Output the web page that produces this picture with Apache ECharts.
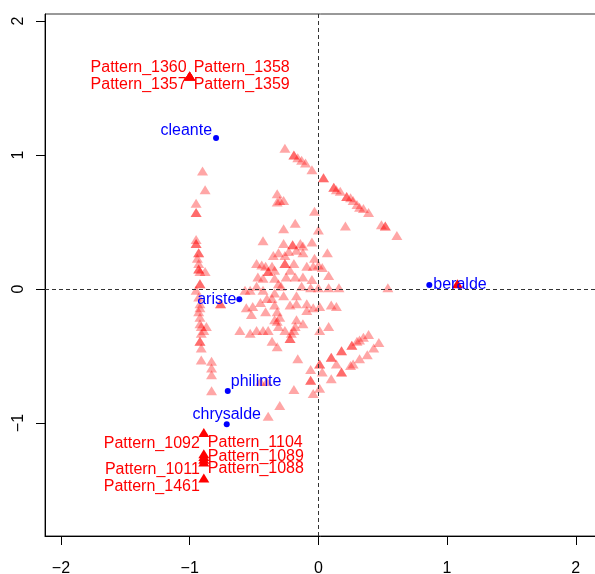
<!DOCTYPE html>
<html><head><meta charset="utf-8">
<script src="https://cdn.jsdelivr.net/npm/echarts@6/dist/echarts.min.js"></script>
<style>html,body{margin:0;padding:0;background:#fff}#c{width:595px;height:574px}</style>
</head><body><div id="c"></div>
<script>
// ---- data ----
// unlabeled patterns (duplicates = overlapping identical patterns)
const patternX = [
 -0.26,-0.19,-0.19,-0.16,-0.13,-0.10,-0.05,0.04,0.04,0.12,0.12,0.14,0.17,0.22,0.22,0.25,0.27,0.30,0.32,0.35,0.39,0.49,0.52,0.52,0.61,
 -0.90,-0.88,-0.95,-0.95,-0.95,-0.95,-0.95,-0.95,-0.93,-0.93,-0.94,-0.93,-0.93,-0.93,-0.88,-0.92,-0.92,-0.92,-0.95,-0.93,-0.92,-0.92,-0.93,-0.92,-0.92,-0.87,-0.91,-0.89,-0.91,-0.92,-0.92,-0.91,-0.91,-0.83,-0.83,-0.83,-0.83,-0.76,-0.76,
 -0.32,-0.30,-0.32,-0.27,-0.03,-0.27,-0.18,0.21,0.00,-0.43,-0.27,-0.20,-0.20,-0.14,-0.12,-0.05,
 -0.35,-0.31,-0.26,-0.23,-0.17,-0.12,-0.03,0.07,
 -0.48,-0.44,-0.41,-0.39,-0.39,-0.36,-0.34,-0.26,-0.26,-0.19,-0.22,-0.09,-0.04,0.00,0.03,0.08,
 -0.12,-0.05,-0.47,-0.43,-0.34,-0.31,-0.29,-0.25,-0.18,-0.13,-0.06,0.00,0.08,0.16,0.54,
 -0.48,-0.53,-0.57,-0.43,-0.34,-0.27,-0.17,-0.36,-0.40,-0.45,-0.51,-0.34,-0.22,-0.17,-0.09,0.01,0.10,0.14,
 -0.56,-0.52,-0.41,-0.32,-0.30,-0.34,-0.32,-0.31,-0.17,-0.18,-0.09,
 -0.61,-0.53,-0.48,-0.43,-0.39,-0.26,-0.21,-0.19,-0.22,-0.22,-0.12,0.08,-0.36,-0.32,-0.16,-0.04,0.01,
 0.01,0.01,0.10,0.10,0.18,0.18,0.26,0.26,0.30,0.32,0.35,0.39,
 -0.06,-0.06,-0.06,0.03,0.10,0.14,0.18,0.18,0.25,0.27,0.32,0.38,0.43,0.47,
 0.01,-0.04,-0.19,-0.30,-0.39,-0.45,-0.40
];
const patternY = [
 1.05,1.00,1.00,0.98,0.96,0.94,0.89,0.83,0.83,0.76,0.76,0.74,0.73,0.69,0.69,0.68,0.66,0.63,0.61,0.60,0.57,0.48,0.47,0.47,0.40,
 0.88,0.74,0.64,0.57,0.57,0.37,0.34,0.34,0.27,0.27,0.23,0.19,0.15,0.15,0.13,0.13,0.04,0.04,-0.01,-0.06,-0.11,-0.14,-0.17,-0.21,-0.26,-0.28,-0.28,-0.31,-0.33,-0.39,-0.39,-0.44,-0.53,-0.54,-0.59,-0.64,-0.76,-0.11,-0.11,
 0.71,0.66,0.65,0.66,0.58,0.45,0.49,0.47,0.44,0.36,0.34,0.33,0.33,0.34,0.32,0.35,
 0.25,0.27,0.25,0.28,0.29,0.27,0.23,0.27,
 0.19,0.18,0.17,0.13,0.13,0.17,0.14,0.19,0.19,0.19,0.14,0.17,0.17,0.18,0.16,0.10,
 0.09,0.07,0.09,0.08,0.08,0.04,0.02,0.09,0.09,0.02,0.01,0.01,0.01,0.01,0.01,
 0.02,-0.01,-0.01,-0.01,-0.03,-0.05,-0.05,-0.07,-0.07,-0.10,-0.13,-0.12,-0.12,-0.11,-0.11,-0.13,-0.12,-0.13,
 -0.14,-0.19,-0.17,-0.17,-0.21,-0.23,-0.24,-0.28,-0.23,-0.28,-0.16,
 -0.31,-0.33,-0.31,-0.31,-0.31,-0.31,-0.33,-0.31,-0.37,-0.37,-0.26,-0.28,-0.39,-0.43,-0.52,-0.14,-0.31,
 -0.56,-0.56,-0.51,-0.51,-0.46,-0.46,-0.42,-0.42,-0.39,-0.38,-0.36,-0.34,
 -0.60,-0.68,-0.68,-0.62,-0.67,-0.56,-0.62,-0.62,-0.57,-0.56,-0.52,-0.49,-0.44,-0.40,
 -0.74,-0.78,-0.75,-0.87,-0.95,-0.69,-0.69
];
// highlighted (extreme) patterns
const labeledNames = ['Pattern_1360','Pattern_1358','Pattern_1357','Pattern_1359',
  'Pattern_1104','Pattern_1092','Pattern_1089','Pattern_1011','Pattern_1088','Pattern_1461','beralde_pattern'];
const labeledX = [-1.00,-1.00,-1.00,-1.00,-0.89,-0.89,-0.89,-0.89,-0.89,-0.89,1.08];
const labeledY = [1.59,1.59,1.59,1.59,-1.07,-1.23,-1.25,-1.27,-1.29,-1.41,0.04];
// characters (column points)
const characterNames = ['cleante','ariste','beralde','philinte','chrysalde'];
const characterX = [-0.795,-0.614,0.862,-0.704,-0.712];
const characterY = [1.127,-0.077,0.030,-0.761,-1.010];
// tick values
const xTicks = [-2,-1,0,1,2];
const yTicks = [-1,0,1,2];

// ---- layout / style ----
const FONT = '"Liberation Sans", Arial, Helvetica, sans-serif';
const patternLabelLayout = {
  Pattern_1360:['right',-3,-8], Pattern_1358:['left',4,-8],
  Pattern_1357:['right',-3,9],  Pattern_1359:['left',4,9],
  Pattern_1104:['left',4,10],   Pattern_1092:['right',-4,-10],
  Pattern_1089:['left',4,0],    Pattern_1011:['right',-4,10],
  Pattern_1088:['left',4,7],    Pattern_1461:['right',-4,9]
};
const charLabelLayout = {
  cleante:['right',-4,-7], ariste:['right',-3,0], beralde:['left',4,0],
  philinte:['left',3,-9], chrysalde:['center',0,-10]
};
const minus = v => String(v).replace('-', '\u2212');

const patternData = patternX.map((x,i)=>[x, patternY[i]]);
const labeledData = labeledNames.map((n,i)=>{
  const lay = patternLabelLayout[n];
  return {name:n, value:[labeledX[i], labeledY[i]],
    label: lay ? {show:true, position:'inside', align:lay[0], verticalAlign:'middle', offset:[lay[1],lay[2]]} : {show:false}};
});
const charData = characterNames.map((n,i)=>{
  const lay = charLabelLayout[n];
  return {name:n, value:[characterX[i], characterY[i]],
    label:{show:true, position:'inside', align:lay[0], verticalAlign:'middle', offset:[lay[1],lay[2]]}};
});

const chart = echarts.init(document.getElementById('c'), null, {renderer:'canvas'});
const axisCommon = {
  type:'value', splitLine:{show:false},
  axisLine:{show:true, onZero:false, lineStyle:{color:'#000', width:1}},
  axisTick:{show:true, inside:false, length:9, lineStyle:{color:'#000', width:1}},
};
chart.setOption({
  animation:false,
  grid:{left:45, top:14, width:556, height:522, show:true, borderColor:'#333', borderWidth:1, outerBoundsMode:'none', containLabel:false},
  xAxis:Object.assign({}, axisCommon, {
    min:-2.124, max:2.196,
    axisTick:Object.assign({}, axisCommon.axisTick, {customValues:xTicks}),
    axisLabel:{customValues:xTicks, formatter:minus, fontSize:16, fontFamily:FONT, color:'#000', margin:25}
  }),
  yAxis:Object.assign({}, axisCommon, {
    min:-1.843, max:2.052,
    axisTick:Object.assign({}, axisCommon.axisTick, {customValues:yTicks}),
    axisLabel:{customValues:yTicks, formatter:minus, fontSize:16, fontFamily:FONT, color:'#000', margin:18, rotate:90}
  }),
  series:[
    {type:'scatter', data:patternData, symbol:'triangle', symbolSize:[11,9],
     itemStyle:{color:'rgba(255,0,0,0.35)', opacity:1}, silent:true, z:2,
     markLine:{silent:true, symbol:'none', label:{show:false},
       lineStyle:{color:'#333', type:[4,3], width:1, opacity:1},
       data:[{xAxis:0},{yAxis:0}]}},
    {type:'scatter', data:labeledData, symbol:'triangle', symbolSize:[11,9],
     itemStyle:{color:'#ff0000', opacity:1}, silent:true, z:3,
     label:{formatter:'{b}', color:'#ff0000', fontSize:16, fontFamily:FONT, opacity:1}},
    {type:'scatter', data:charData, symbol:'circle', symbolSize:6,
     itemStyle:{color:'#0000ff', opacity:1}, silent:true, z:4,
     label:{formatter:'{b}', color:'#0000ff', fontSize:16, fontFamily:FONT, opacity:1}}
  ]
});
</script>
</body></html>
